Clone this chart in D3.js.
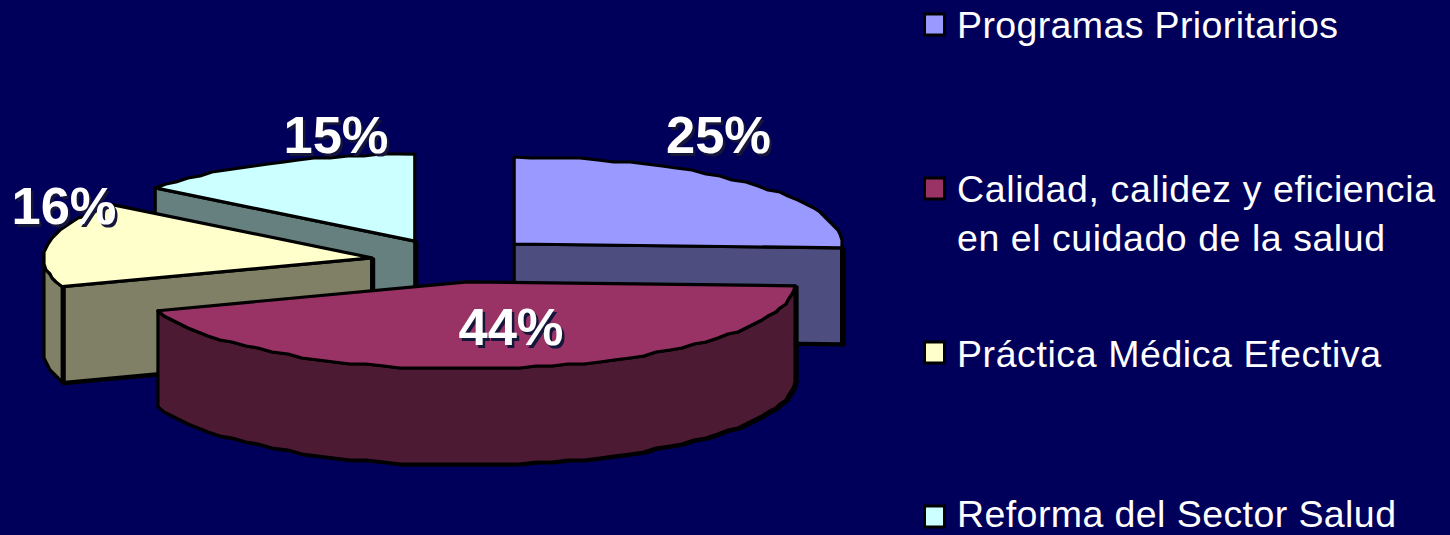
<!DOCTYPE html>
<html><head><meta charset="utf-8">
<script src="https://cdn.jsdelivr.net/npm/d3@7/dist/d3.min.js"></script>
<style>html,body{margin:0;padding:0;background:#00005a;overflow:hidden}svg{display:block}</style>
</head><body><svg id="c" width="1450" height="535"></svg>
<script>
const categories = ["Programas Prioritarios","Calidad, calidez y eficiencia|en el cuidado de la salud","Práctica Médica Efectiva","Reforma del Sector Salud"];
const values = [25,44,16,15];
const topColors = ["#9999ff","#993366","#ffffcc","#ccffff"];
const wallColors = ["#4d4d80","#4d1a33","#808066","#668080"];
const explode = [0.268,0.25,0.247,0.25];

// layout
const cx=452, cy=260.5, rx=328, ry=87, depth=96, grid=2, warp=0.045;
const labelPos=[[718.5,153],[511,345],[64,224],[336,153]];
const legendRows=[{box:14,base:[38],len:[381]},{box:178,base:[202,251],len:[478,428]},{box:342,base:[367],len:[424]},{box:506,base:[527],len:[439]}];

const svg=d3.select("#c");
const color=d3.scaleOrdinal().domain(categories).range(topColors);
const wall=d3.scaleOrdinal().domain(categories).range(wallColors);
const pie=d3.pie().sort(null).value((d,i)=>values[i]);
const arcs=pie(categories);
const line=d3.line();
const q=v=>Math.round(v/grid)*grid;

arcs.forEach((a,i)=>{
  const m=(a.startAngle+a.endAngle)/2;
  a.ax=cx+explode[i]*rx*Math.sin(m);
  a.ay=cy-explode[i]*ry*Math.cos(m);
  // projected angle: the ellipse is slightly skewed by the 3D view
  a.pt=t=>{const w=t+warp*Math.sin(t)*Math.sin(t);return [a.ax+rx*Math.sin(w),a.ay-ry*Math.cos(w)];};
});
function rim(a,t0,t1){
  const n=Math.max(2,Math.ceil((t1-t0)/(Math.PI/60))),pts=[];
  for(let k=0;k<=n;k++){
    const p=a.pt(t0+(t1-t0)*k/n);
    pts.push(k==0||k==n?p:[q(p[0]),q(p[1])]);
  }
  return pts;
}
const down=p=>[p[0],p[1]+depth];
const ST={stroke:"#000","stroke-width":3.2,"stroke-linejoin":"round"};
function draw(d,fill){const s=svg.append("path").attr("d",d).attr("fill",fill);for(const k in ST)s.attr(k,ST[k]);return s;}
function drawWall(d,fill){
  draw(d,"#000").attr("transform","translate(2,1)");
  draw(d,fill);
}

[3,0,2,1].forEach(i=>{
  const a=arcs[i],c=categories[i];
  const A=[a.ax,a.ay];
  [[a.startAngle,Math.sin(a.startAngle)<-1e-6],[a.endAngle,Math.sin(a.endAngle)>1e-6]].forEach(([t,vis])=>{
    if(!vis)return;
    const p=a.pt(t);
    drawWall(line([A,p,down(p),down(A)])+"Z",wall(c));
  });
  const t0=Math.max(a.startAngle,Math.PI/2),t1=Math.min(a.endAngle,3*Math.PI/2);
  if(t1>t0){
    const r=rim(a,t0,t1);
    drawWall(line(r.concat(r.slice().reverse().map(down)))+"Z",wall(c));
  }
  draw(line([A].concat(rim(a,a.startAngle,a.endAngle)))+"Z",color(c));
});

const total=d3.sum(values), fmt=d3.format(".0%");
svg.append("defs").append("filter").attr("id","soft").append("feGaussianBlur").attr("stdDeviation",0.7);
arcs.forEach((a,i)=>{
  const t=fmt(values[i]/total);
  [["#14143a",2.5],["#fff",0]].forEach(([f,o])=>{
    const s=svg.append("text").attr("x",labelPos[i][0]+o).attr("y",labelPos[i][1]+o)
      .attr("text-anchor","middle").attr("fill",f)
      .attr("font-family","Liberation Sans").attr("font-weight","bold").attr("font-size",52.5).text(t);
    if(o)s.attr("filter","url(#soft)");
  });
});

categories.forEach((c,i)=>{
  const r=legendRows[i];
  svg.append("rect").attr("x",924.5).attr("y",r.box).attr("width",20).attr("height",21)
    .attr("fill",color(c)).attr("stroke","#000").attr("stroke-width",3);
  c.split("|").forEach((s,k)=>{
    svg.append("text").attr("x",957).attr("y",r.base[k]).attr("fill","#fff")
      .attr("font-family","Liberation Sans").attr("font-size",37.5)
      .attr("textLength",r.len[k]).attr("lengthAdjust","spacing").text(s);
  });
});
</script></body></html>
